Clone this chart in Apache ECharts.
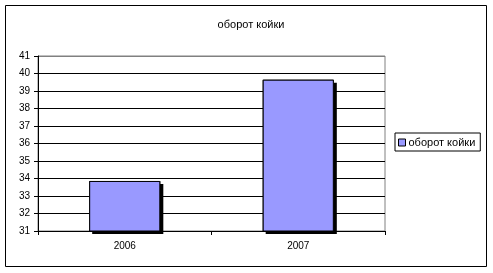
<!DOCTYPE html>
<html><head><meta charset="utf-8">
<script src="https://cdn.jsdelivr.net/npm/echarts@6/dist/echarts.min.js"></script>
<style>html,body{margin:0;padding:0;background:#fff}#c{width:493px;height:273px}</style>
</head><body><div id="c"></div>
<script>
const categories = ['2006', '2007'];
const seriesName = 'оборот койки';
const values = [33.86, 39.65];
const yTicks = [31, 32, 33, 34, 35, 36, 37, 38, 39, 40, 41];

const chart = echarts.init(document.getElementById('c'), null, {renderer: 'canvas'});
const font = 'Liberation Sans, Arial, sans-serif';
const gridColors = yTicks.map((v, i) => i === yTicks.length - 1 ? '#808080' : '#000');
chart.setOption({
  animation: false,
  backgroundColor: '#fff',
  textStyle: {fontFamily: font},
  title: {
    text: seriesName, left: 246, top: 14, textAlign: 'center',
    textStyle: {fontSize: 11, fontWeight: 'normal', color: '#000', fontFamily: font}
  },
  graphic: [{
    type: 'rect', shape: {x: 5.5, y: 5.5, width: 481, height: 261},
    style: {fill: 'none', stroke: '#000', lineWidth: 1}, z: 100, silent: true
  }],
  legend: {
    data: [seriesName], left: 395, top: 133, orient: 'vertical',
    icon: 'rect', itemWidth: 7, itemHeight: 7, itemGap: 4,
    padding: [4, 5, 3, 3], borderColor: '#000', borderWidth: 1,
    textStyle: {fontSize: 11, color: '#000', fontFamily: font, padding: [0, 0, 0, -2]},
    itemStyle: {color: '#9999FF', borderColor: '#000', borderWidth: 1, shadowBlur: 0, shadowOffsetX: 0, shadowOffsetY: 0}
  },
  grid: {left: 38, right: 108, top: 56, bottom: 42, show: true, borderColor: '#808080', borderWidth: 1},
  xAxis: {
    type: 'category', data: categories,
    axisLine: {lineStyle: {color: '#000', width: 1}},
    axisTick: {show: true, length: 4, lineStyle: {color: '#000'}},
    axisLabel: {fontSize: 10, color: '#000', margin: 10, fontFamily: font}
  },
  yAxis: {
    type: 'value', min: 31, max: 41, interval: 1,
    axisLine: {show: true, lineStyle: {color: '#000', width: 1}},
    axisTick: {show: true, length: 4, lineStyle: {color: '#000'}},
    axisLabel: {fontSize: 10, color: '#000', margin: 8, fontFamily: font},
    splitLine: {show: true, lineStyle: {color: gridColors, width: 1}}
  },
  series: [{
    name: seriesName, type: 'bar', data: values, barWidth: '41%', z: 2,
    itemStyle: {
      color: '#000', borderWidth: 0,
      shadowColor: '#000', shadowOffsetX: 3, shadowOffsetY: 3, shadowBlur: 0
    }
  }, {
    name: seriesName, type: 'bar', data: values, barWidth: '41%', barGap: '-100%', z: 3,
    itemStyle: {color: '#9999FF', borderColor: '#000', borderWidth: 1}
  }]
});
</script></body></html>
